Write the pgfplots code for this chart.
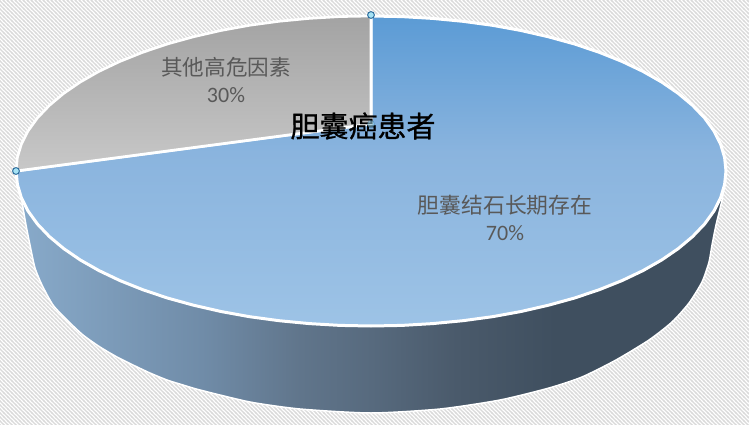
\documentclass[border=0pt]{standalone}
\usepackage{fontspec}
\setmainfont{Carlito}
\newfontfamily\cjk{Noto Sans CJK SC}
\newfontfamily\cjktitle[FakeBold=0.9]{Noto Sans CJK SC}
\usepackage{pgfplots}
\pgfplotsset{compat=1.18}
\usetikzlibrary{patterns}

\definecolor{greyTop}{HTML}{A3A3A3}
\definecolor{greyBot}{HTML}{C8C8C8}
\definecolor{hatchGrey}{HTML}{DADADA}
\definecolor{labelGrey}{HTML}{595959}
\definecolor{handleFill}{HTML}{A6E3F5}
\definecolor{handleLine}{HTML}{2E6E9E}

\definecolor{sideA}{HTML}{88AACA}
\definecolor{sideB}{HTML}{708CA8}
\definecolor{sideC}{HTML}{60758B}
\definecolor{sideD}{HTML}{576A7E}
\definecolor{sideE}{HTML}{4A5A6B}
\definecolor{sideF}{HTML}{3F4F5F}
\definecolor{blueA}{HTML}{5B9BD5}
\definecolor{blueB}{HTML}{8AB4DE}
\definecolor{blueC}{HTML}{9DC3E6}

% background stripes, 4 px tile
\pgfdeclarepatternformonly{bgstripes}{\pgfqpoint{-1pt}{-1pt}}{\pgfqpoint{5pt}{5pt}}{\pgfqpoint{4pt}{4pt}}{
  \pgfsetlinewidth{1.25pt}
  \pgfpathmoveto{\pgfqpoint{-1pt}{5pt}}
  \pgfpathlineto{\pgfqpoint{5pt}{-1pt}}
  \pgfusepath{stroke}
}

% the bounding box runs from 25bp to 75bp in both shadings
\pgfdeclarehorizontalshading{sidewall}{100bp}{
  color(0bp)=(sideA);
  color(25bp)=(sideA);
  color(38bp)=(sideB);
  color(45bp)=(sideC);
  color(50bp)=(sideD);
  color(56bp)=(sideE);
  color(63bp)=(sideF);
  color(100bp)=(sideF)
}
\pgfdeclareverticalshading{bluetop}{100bp}{
  color(0bp)=(blueC);
  color(25bp)=(blueC);
  color(53bp)=(blueB);
  color(75bp)=(blueA);
  color(100bp)=(blueA)
}

\pgfplotstableread{
x y
18 180
22 202
26 225
30 245
35 268
42 285
53 305
67 320
83 335
100 347
117 357
133 365
150 373
167 380
183 385
200 390
250 402
300 409
371 413
440 409
500 400
549 388
582 377
616 360
649 340
672 322
689 303
702 282
709 262
712 245
716 225
722 200
725 180
}\sidetable

\pgfplotstableread{
x y
371 124
371 16
402.0 16.6
432.6 18.4
462.9 21.3
492.4 25.3
521.0 30.5
548.5 36.8
574.6 44.0
599.2 52.3
622.0 61.4
643.0 71.4
661.8 82.1
678.4 93.5
692.7 105.5
704.6 118.0
713.9 130.9
720.6 144.1
724.6 157.5
726 171
724.6 184.5
720.6 197.9
713.9 211.1
704.6 224.0
692.7 236.5
678.4 248.5
661.8 259.9
643.0 270.6
622.0 280.6
599.2 289.7
574.6 298.0
548.5 305.2
521.0 311.5
492.4 316.7
462.9 320.7
432.6 323.6
402.0 325.4
371 326
340.0 325.4
309.4 323.6
279.1 320.7
249.6 316.7
221.0 311.5
193.5 305.2
167.4 298.0
142.8 289.7
120.0 280.6
99.0 270.6
80.2 259.9
63.6 248.5
49.3 236.5
37.4 224.0
28.1 211.1
21.4 197.9
17.4 184.5
16 171
}\bluetable

\pgfplotstableread{
x y
371 124
16 171
17.4 157.5
21.4 144.1
28.1 130.9
37.4 118.0
49.3 105.5
63.6 93.5
80.2 82.1
99.0 71.4
120.0 61.4
142.8 52.3
167.4 44.0
193.5 36.8
221.0 30.5
249.6 25.3
279.1 21.3
309.4 18.4
340.0 16.6
371 16
}\greytable

\begin{document}
\begin{tikzpicture}
\begin{axis}[
  scale only axis,
  width=749pt, height=425pt,
  xmin=0, xmax=749, ymin=0, ymax=425,
  y dir=reverse,
  hide axis,
]
  % page background
  \addplot[draw=none, fill=white] coordinates {(0,0) (749,0) (749,425) (0,425)} --cycle;
  \addplot[draw=none, pattern=bgstripes, pattern color=hatchGrey] coordinates {(0,0) (749,0) (749,425) (0,425)} --cycle;

  % pie
  \addplot[draw=white, line width=1.5pt, shading=sidewall, smooth, tension=0.4] table {\sidetable};
  \addplot[draw=white, line width=3pt, line join=round, shading=bluetop] table {\bluetable} --cycle;
  \addplot[draw=white, line width=2.6pt, line join=round, top color=greyTop, bottom color=greyBot] table {\greytable} --cycle;

  % selection handles
  \addplot[only marks, mark=*, mark size=3.4pt, mark options={fill=handleFill, draw=handleLine, line width=1pt}]
    coordinates {(371,15) (16,171)};
  \addplot[only marks, mark=*, mark size=3.4pt, mark options={fill=handleFill, draw=handleLine, line width=0.6pt, opacity=0.5}]
    coordinates {(371,124)};

  \node[font=\cjktitle\fontsize{29}{29}\selectfont, text=black] at (axis cs:363,126) {胆囊癌患者};
  \node[font=\cjk\fontsize{21.6}{21.6}\selectfont, text=labelGrey] at (axis cs:226,67) {其他高危因素};
  \node[font=\fontsize{22}{22}\selectfont, text=labelGrey] at (axis cs:226,95) {30\%};
  \node[font=\cjk\fontsize{21.8}{21.8}\selectfont, text=labelGrey] at (axis cs:505,205) {胆囊结石长期存在};
  \node[font=\fontsize{22}{22}\selectfont, text=labelGrey] at (axis cs:505,233) {70\%};
\end{axis}
\end{tikzpicture}
\end{document}
